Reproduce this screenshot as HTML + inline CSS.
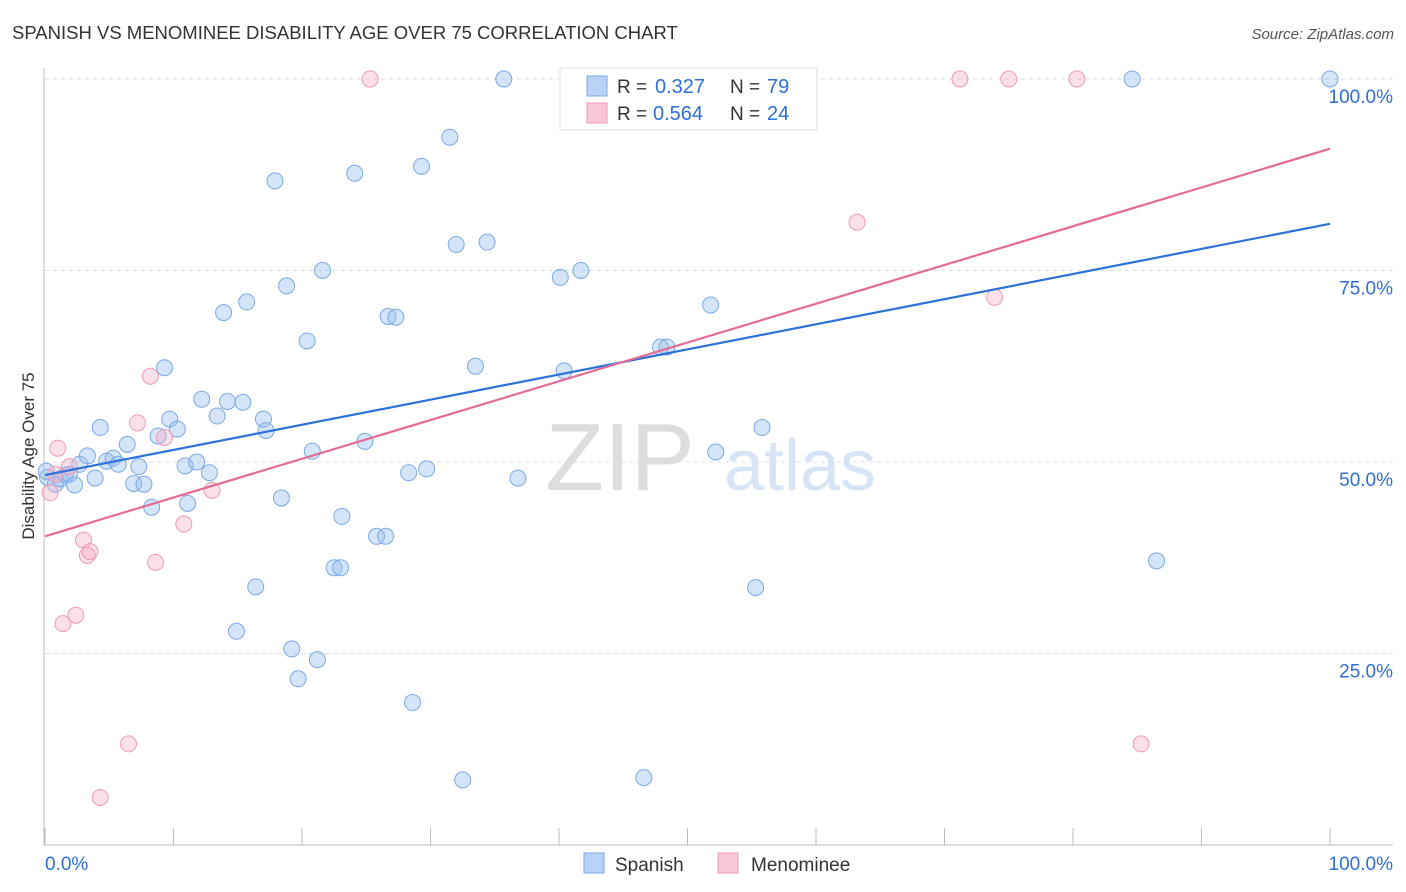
<!DOCTYPE html>
<html><head><meta charset="utf-8">
<style>
body{margin:0;background:#fff;font-family:"Liberation Sans",sans-serif;}
#wrap{position:relative;width:1406px;height:892px;overflow:hidden;}
svg text{font-family:"Liberation Sans",sans-serif;}
</style></head>
<body><div id="wrap">
<svg id="svg" width="1406" height="892" xmlns="http://www.w3.org/2000/svg">
<text x="12" y="39" font-size="18.5" fill="#333">SPANISH VS MENOMINEE DISABILITY AGE OVER 75 CORRELATION CHART</text>
<text x="1394" y="39" font-size="15" fill="#555" font-style="italic" text-anchor="end">Source: ZipAtlas.com</text>
<text x="620" y="490" font-size="96" fill="#ddd" text-anchor="middle" font-family="Liberation Serif">ZIP</text>
<text x="800" y="490" font-size="72" fill="#d6e4f5" text-anchor="middle">atlas</text>
<text transform="translate(34,456) rotate(-90)" font-size="17" fill="#333" text-anchor="middle">Disability Age Over 75</text>
<g id="grid"></g><g id="pts"></g><g id="lines"></g>
<g>
<rect x="560" y="68" width="257" height="62" fill="#fff" stroke="#ddd"/>
<rect x="587" y="76" width="20" height="20" fill="#b8d3f5" stroke="#7aa8e6"/>
<text x="617" y="93" font-size="19" fill="#333">R =</text>
<text x="655" y="93" font-size="20" fill="#2d6fd6">0.327</text>
<text x="730" y="93" font-size="19" fill="#333">N =</text>
<text x="767" y="93" font-size="20" fill="#2d6fd6">79</text>
<rect x="587" y="103" width="20" height="20" fill="#f9c7d6" stroke="#ee9ab5"/>
<text x="617" y="120" font-size="19" fill="#333">R =</text>
<text x="653" y="120" font-size="20" fill="#2d6fd6">0.564</text>
<text x="730" y="120" font-size="19" fill="#333">N =</text>
<text x="767" y="120" font-size="20" fill="#2d6fd6">24</text>
</g>
<g>
<rect x="584" y="853" width="20" height="20" fill="#b8d3f5" stroke="#7aa8e6"/>
<text x="615" y="871" font-size="19" fill="#333">Spanish</text>
<rect x="718" y="853" width="20" height="20" fill="#f9c7d6" stroke="#ee9ab5"/>
<text x="751" y="871" font-size="19" fill="#333">Menominee</text>
</g>
</svg></div>
<script>
const xTicks=[0,10,20,30,40,50,60,70,80,90,100];
const yTicks=[25,50,75,100];
const yTickLabels=["25.0%","50.0%","75.0%","100.0%"];
const spanishX=[0.2,0.8,1.2,1.6,1.9,2.3,2.7,3.3,3.9,4.3,4.8,5.3,5.7,6.4,6.9,7.3,7.7,8.3,8.8,9.3,9.7,10.3,10.9,11.1,11.8,12.2,12.8,13.4,13.9,14.2,14.9,15.4,15.7,16.4,17.0,17.2,17.9,18.4,18.8,19.2,19.7,20.4,20.8,21.2,21.6,22.5,23.0,23.1,24.1,24.9,25.8,26.5,26.7,27.3,28.3,28.6,29.3,29.7,31.5,32.0,32.5,33.5,34.4,35.7,36.8,40.1,40.4,41.7,46.6,47.9,48.4,51.8,52.2,55.3,55.8,84.6,86.5,100,0.1];
const spanishY=[48.0,47.1,47.8,48.3,48.4,47.0,49.7,50.8,47.9,54.5,50.1,50.5,49.7,52.3,47.2,49.4,47.1,44.1,53.4,62.3,55.6,54.3,49.5,44.6,50.0,58.2,48.6,56.0,69.5,57.9,27.9,57.8,70.9,33.7,55.6,54.1,86.7,45.3,73.0,25.6,21.7,65.8,51.4,24.2,75.0,36.2,36.2,42.9,87.7,52.7,40.3,40.3,69.0,68.9,48.6,18.6,88.6,49.1,92.4,78.4,8.5,62.5,78.7,100,47.9,74.1,61.9,75.0,8.8,65.0,65.0,70.5,51.3,33.6,54.5,100,37.1,100,48.8];
const menX=[0.4,0.8,1.0,1.4,1.9,2.4,3.0,3.3,3.5,4.3,6.5,7.2,8.2,8.6,9.3,10.8,13.0,25.3,63.2,71.2,73.9,75.0,80.3,85.3];
const menY=[46.0,48.4,51.8,28.9,49.4,30.0,39.8,37.8,38.3,6.2,13.2,55.1,61.2,36.9,53.2,41.9,46.3,100,81.3,100,71.5,100,100,13.2];
const spanishFit=[48.3,81.1];
const menFit=[40.3,90.9];
const X=v=>45+v*12.85, Y=v=>845-v*7.66;
const NS="http://www.w3.org/2000/svg";
function mk(tag,attrs,parent){const e=document.createElementNS(NS,tag);for(const k in attrs)e.setAttribute(k,attrs[k]);parent.appendChild(e);return e;}
const grid=document.getElementById('grid'),pts=document.getElementById('pts'),lines=document.getElementById('lines');
let e=mk('line',{x1:44,y1:68,x2:44,y2:845,stroke:'#bbb'},grid);


e=mk('line',{x1:44,y1:845,x2:1393,y2:845,stroke:'#bbb'},grid);


yTicks.forEach((t,i)=>{
 const g=mk('line',{x1:45,x2:1393,y1:Y(t),y2:Y(t),stroke:'#ddd','stroke-dasharray':'4,4'},grid);
 
 
 const tx=mk('text',{x:1393,y:Y(t)+24,'font-size':19,fill:'#2d6fd6','text-anchor':'end'},grid);
 tx.textContent=yTickLabels[i];
 
 
});
xTicks.forEach(t=>{
 const l=mk('line',{x1:X(t),x2:X(t),y1:828,y2:845,stroke:'#bbb'},grid);
 
 
});
let t0=mk('text',{x:45,y:870,'font-size':19,fill:'#2d6fd6'},grid);t0.textContent='0.0%';


let t1=mk('text',{x:1393,y:870,'font-size':19,fill:'#2d6fd6','text-anchor':'end'},grid);t1.textContent='100.0%';


spanishX.forEach((v,i)=>{
 const c=mk('circle',{cx:X(v),cy:Y(spanishY[i]),r:8,fill:'rgba(150,190,240,0.4)',stroke:'#7aa8e6','stroke-width':1},pts);
 
 
});
menX.forEach((v,i)=>{
 const c=mk('circle',{cx:X(v),cy:Y(menY[i]),r:8,fill:'rgba(245,175,200,0.4)',stroke:'#ee9ab5','stroke-width':1},pts);
 
 
});
let l1=mk('line',{x1:X(0),y1:Y(spanishFit[0]),x2:X(100),y2:Y(spanishFit[1]),stroke:'#2d72d9','stroke-width':2.2},lines);


let l2=mk('line',{x1:X(0),y1:Y(menFit[0]),x2:X(100),y2:Y(menFit[1]),stroke:'#e46b96','stroke-width':2.2},lines);


</script>
</body></html>
